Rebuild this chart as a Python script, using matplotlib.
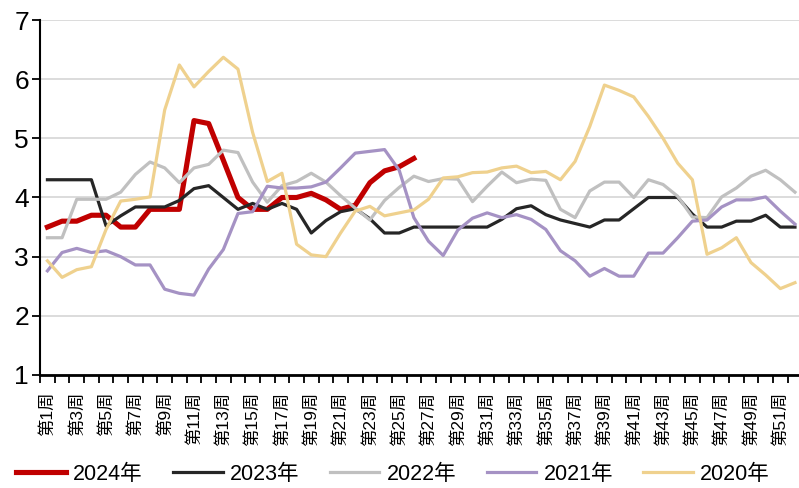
import numpy as np
import matplotlib
matplotlib.use("Agg")
import matplotlib.pyplot as plt

plt.rcParams['font.family'] = ['Liberation Sans', 'Noto Sans CJK SC', 'DejaVu Sans']

weeks = np.arange(1, 53)
week_labels = ["第%d周" % w for w in weeks]

y2024 = [3.5, 3.6, 3.6, 3.7, 3.7, 3.5, 3.5, 3.8, 3.8, 3.8, 5.3, 5.25, 4.63, 4.0, 3.8,
         3.8, 4.0, 4.0, 4.07, 3.96, 3.8, 3.87, 4.25, 4.45, 4.52, 4.66]
y2023 = [4.3, 4.3, 4.3, 4.3, 3.52, 3.69, 3.84, 3.84, 3.84, 3.95, 4.15, 4.2, 4.0, 3.8,
         3.9, 3.8, 3.9, 3.8, 3.4, 3.61, 3.76, 3.81, 3.64, 3.4, 3.4, 3.5, 3.5, 3.5,
         3.5, 3.5, 3.5, 3.63, 3.81, 3.86, 3.71, 3.62, 3.56, 3.5, 3.62, 3.62, 3.81,
         4.0, 4.0, 4.0, 3.72, 3.5, 3.5, 3.6, 3.6, 3.7, 3.5, 3.5]
y2022 = [3.32, 3.32, 3.97, 3.97, 3.97, 4.09, 4.39, 4.6, 4.5, 4.25, 4.5, 4.56, 4.8,
         4.76, 4.26, 3.92, 4.2, 4.27, 4.41, 4.26, 4.03, 3.82, 3.62, 3.95, 4.17,
         4.36, 4.27, 4.32, 4.31, 3.93, 4.19, 4.43, 4.25, 4.31, 4.29, 3.8, 3.66,
         4.11, 4.26, 4.26, 4.0, 4.3, 4.22, 4.02, 3.67, 3.66, 4.01, 4.16, 4.36,
         4.46, 4.3, 4.09]
y2021 = [2.76, 3.07, 3.14, 3.07, 3.1, 3.0, 2.86, 2.86, 2.45, 2.38, 2.35, 2.79, 3.12,
         3.73, 3.76, 4.19, 4.16, 4.16, 4.18, 4.26, 4.5, 4.75, 4.78, 4.81, 4.46,
         3.66, 3.26, 3.02, 3.45, 3.65, 3.74, 3.66, 3.71, 3.63, 3.46, 3.1, 2.93,
         2.67, 2.8, 2.67, 2.67, 3.06, 3.06, 3.32, 3.6, 3.62, 3.84, 3.96, 3.96,
         4.01, 3.77, 3.55]
y2020 = [2.93, 2.65, 2.78, 2.83, 3.46, 3.94, 3.97, 4.01, 5.48, 6.24, 5.87, 6.13, 6.37,
         6.17, 5.1, 4.27, 4.41, 3.21, 3.03, 3.0, 3.4, 3.77, 3.85, 3.69, 3.74, 3.79,
         3.97, 4.33, 4.35, 4.42, 4.43, 4.5, 4.53, 4.42, 4.44, 4.3, 4.61, 5.2, 5.9,
         5.81, 5.7, 5.37, 5.0, 4.58, 4.3, 3.04, 3.15, 3.32, 2.9, 2.69, 2.46, 2.56]

fig = plt.figure(figsize=(7.99, 4.88), dpi=100)
ax = fig.add_axes([40.1 / 799, 0.2316, 762.2 / 799, 0.7274])

# excel order: later series drawn on top
ax.plot(weeks[:len(y2024)], y2024, color='#C00000', lw=3.7, label='2024年', zorder=3,
        solid_joinstyle='round')
ax.plot(weeks, y2023, color='#262626', lw=2.3, label='2023年', zorder=4)
ax.plot(weeks, y2022, color='#C0C0C0', lw=2.3, label='2022年', zorder=5)
ax.plot(weeks, y2021, color='#A592C4', lw=2.3, label='2021年', zorder=6)
ax.plot(weeks, y2020, color='#EFD18E', lw=2.3, label='2020年', zorder=7)

ax.set_ylim(1, 7)
ax.set_yticks(range(1, 8))
ax.set_xlim(0.5, 52.5)
ax.yaxis.grid(True, color='#D9D9D9', lw=1.3)
ax.set_axisbelow(True)

# ticks between weeks, labels on odd weeks
ax.set_xticks(np.arange(0.5, 53, 1))
ax.set_xticklabels([])
ax.set_xticks(weeks[::2], minor=True)
ax.set_xticklabels(week_labels[::2], minor=True, rotation=90, fontsize=12.5)
ax.tick_params(axis='x', which='major', direction='out', length=6, width=1.3)
ax.tick_params(axis='x', which='minor', length=0, pad=12)
ax.tick_params(axis='y', direction='out', length=6, width=1.3, labelsize=19, pad=2)

for s in ['top', 'right']:
    ax.spines[s].set_visible(False)
ax.spines['left'].set_linewidth(1.5)
ax.spines['bottom'].set_linewidth(2)

fig.legend(loc='center', bbox_to_anchor=(0.492, 0.028), ncol=5, frameon=False,
           fontsize=15.5, handlelength=2.3, handletextpad=0.35, columnspacing=1.4)

fig.savefig('out.png', dpi=100)
